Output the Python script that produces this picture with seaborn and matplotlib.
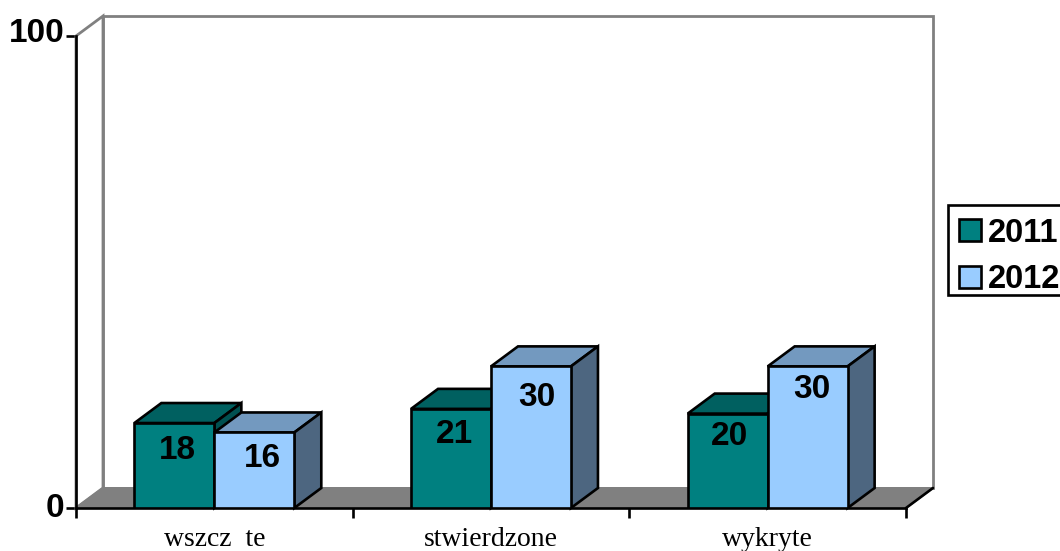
import matplotlib
matplotlib.use("Agg")
import matplotlib.pyplot as plt
from matplotlib.patches import Polygon, Rectangle
from matplotlib.transforms import ScaledTranslation
import pandas as pd
import seaborn as sns

categories = ["wszcz  te", "stwierdzone", "wykryte"]
years = ["2011", "2012"]
values_2011 = [18, 21, 20]
values_2012 = [16, 30, 30]
front_colors = ["#008080", "#99CCFF"]
top_colors = ["#006060", "#7399BF"]
side_colors = ["#005050", "#4D6680"]

# label placement relative to each bar: pixels right of centre, pixels below top
label_dx = [3, 8, 3, 6, 2, 4]
label_dy = [27, 26, 26, 31, 23, 23]

W, H = 1060, 551
DX, DY = 0.0976, 4.24   # depth offset in data units
LW = 1.9

sns.set_theme(style="white")
plt.rcParams["font.family"] = ["Liberation Sans", "DejaVu Sans"]

df = pd.DataFrame({
    "category": categories * 2,
    "year": [years[0]] * 3 + [years[1]] * 3,
    "value": values_2011 + values_2012,
})

fig = plt.figure(figsize=(W / 100, H / 100), dpi=100, facecolor="white")
ax = fig.add_axes([76 / W, 1 - 508 / H, 830 / W, 472 / H])

sns.barplot(data=df, x="category", y="value", hue="year",
            palette=front_colors, width=0.578, gap=0, saturation=1, dodge=True,
            edgecolor="black", linewidth=LW, legend=False, ax=ax, zorder=5)
ax.set_xlim(-0.5, 2.5)
ax.set_ylim(0, 100)

# back wall, side wall and floor
x0, x1 = ax.get_xlim()
y0, y1 = ax.get_ylim()
edge = "#808080"
ax.add_patch(Polygon([(x0 + DX, y0 + DY), (x1 + DX, y0 + DY), (x1 + DX, y1 + DY), (x0 + DX, y1 + DY)],
                     closed=True, fc="white", ec=edge, lw=2.0, clip_on=False, zorder=1))
ax.add_patch(Polygon([(x0, y0), (x0 + DX, y0 + DY), (x0 + DX, y1 + DY), (x0, y1)],
                     closed=True, fc="white", ec=edge, lw=2.0, clip_on=False, zorder=1))
ax.add_patch(Polygon([(x0, y0), (x1, y0), (x1 + DX, y0 + DY), (x0 + DX, y0 + DY)],
                     closed=True, fc="#808080", ec=edge, lw=1.4, clip_on=False, zorder=2))
ax.plot([x1, x1 + DX], [y0, y0 + DY], color="black", lw=LW, clip_on=False, zorder=3)

# 3D faces of each bar, built from the bars seaborn drew
bars = [p for c in ax.containers for p in c]
n = len(categories)
for i, b in enumerate(bars):
    s = i // n
    x, w, h = b.get_x(), b.get_width(), b.get_height()
    b.set_zorder(6 + (i % n) * 3 + s)
    z = b.get_zorder()
    ax.add_patch(Polygon([(x, h), (x + w, h), (x + w + DX, h + DY), (x + DX, h + DY)],
                         closed=True, fc=top_colors[s], ec="black", lw=LW, clip_on=False, zorder=z - 0.5))
    ax.add_patch(Polygon([(x + w, 0), (x + w + DX, DY), (x + w + DX, h + DY), (x + w, h)],
                         closed=True, fc=side_colors[s], ec="black", lw=LW, clip_on=False, zorder=z - 0.5))
    k = (i % n) * 2 + s
    ax.annotate(str(int(h)), (x + w / 2, h), xytext=(label_dx[k] * 0.72, -label_dy[k] * 0.72),
                textcoords="offset points", ha="center", va="center",
                fontsize=24, fontweight="bold", color="black", zorder=30)

# axes and ticks
for name, sp in ax.spines.items():
    sp.set_visible(name in ("left", "bottom"))
    sp.set_color("black")
    sp.set_linewidth(LW)
    sp.set_zorder(4)
ax.set_xlabel("")
ax.set_ylabel("")
ax.set_yticks([0, 100])
ax.set_yticklabels(["0", "100"], fontsize=24, fontweight="bold", color="black")
ax.set_xticks([-0.5, 0.5, 1.5, 2.5], minor=True)
ax.set_xticks([0, 1, 2])
ax.set_xticklabels(categories, fontsize=20, family="Liberation Serif", color="black")
ax.tick_params(axis="x", which="major", length=0, pad=13.5)
ax.tick_params(axis="x", which="minor", length=7.5, width=LW, color="black", bottom=True, direction="out")
ax.tick_params(axis="y", length=7.5, width=LW, color="black", left=True, pad=1)
for lab, up in zip(ax.get_yticklabels(), [3, 6]):
    lab.set_transform(lab.get_transform() + ScaledTranslation(0, up / 100, fig.dpi_scale_trans))

# legend
ax_leg = fig.add_axes([0, 0, 1, 1], facecolor="none")
ax_leg.set_xlim(0, W)
ax_leg.set_ylim(H, 0)
ax_leg.axis("off")
ax_leg.add_patch(Rectangle((948, 205), 114, 90, fc="white", ec="black", lw=LW, clip_on=False))
for yr, col, yy in zip(years, front_colors, [230, 277]):
    ax_leg.add_patch(Rectangle((959, yy - 11), 22, 22, fc=col, ec="black", lw=LW))
    ax_leg.text(988, yy + 3, yr, fontsize=23.5, fontweight="bold", va="center", ha="left", color="black")

fig.savefig("out.png", dpi=100)
